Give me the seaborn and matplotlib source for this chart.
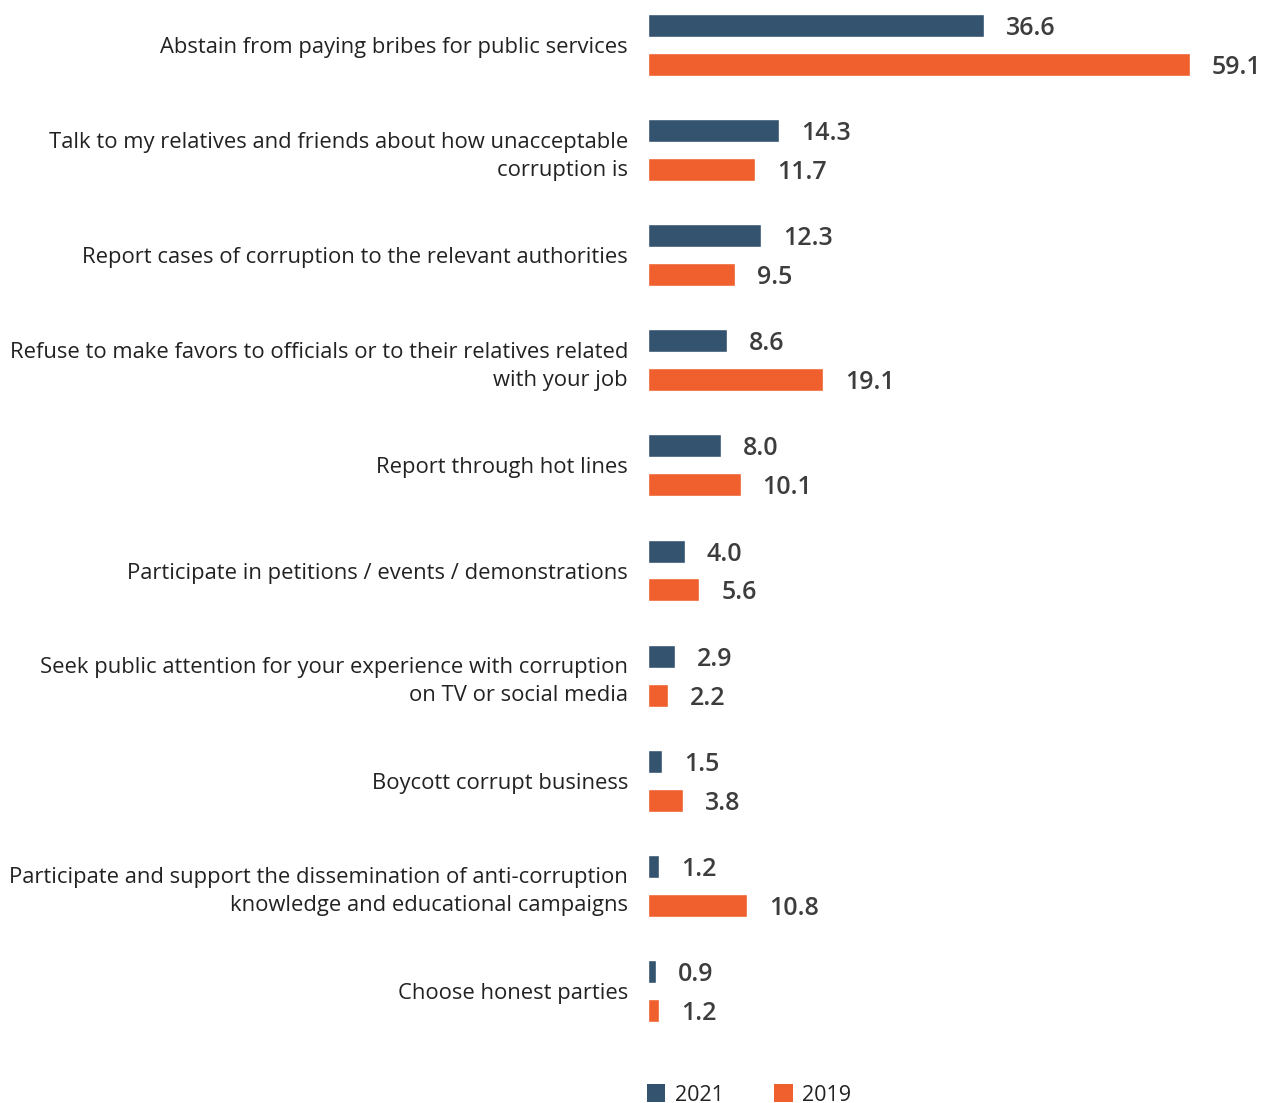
import matplotlib
matplotlib.use("Agg")
import matplotlib.pyplot as plt
from matplotlib.patches import Patch
import seaborn as sns
import pandas as pd

categories = [
    "Abstain from paying bribes for public services",
    "Talk to my relatives and friends about how unacceptable\ncorruption is",
    "Report cases of corruption to the relevant authorities",
    "Refuse to make favors to officials or to their relatives related\nwith your job",
    "Report through hot lines",
    "Participate in petitions / events / demonstrations",
    "Seek public attention for your experience with corruption\non TV or social media",
    "Boycott corrupt business",
    "Participate and support the dissemination of anti-corruption\nknowledge and educational campaigns",
    "Choose honest parties",
]
values_2021 = [36.6, 14.3, 12.3, 8.6, 8.0, 4.0, 2.9, 1.5, 1.2, 0.9]
values_2019 = [59.1, 11.7, 9.5, 19.1, 10.1, 5.6, 2.2, 3.8, 10.8, 1.2]
years = ["2021", "2019"]
colors = ["#34536e", "#f05f2e"]

df = pd.DataFrame({
    "category": categories * 2,
    "value": values_2021 + values_2019,
    "year": [years[0]] * len(categories) + [years[1]] * len(categories),
})

sns.set_theme(style="white")
plt.rcParams["font.family"] = ["Open Sans", "DejaVu Sans"]

W, H = 1267, 1103
fig = plt.figure(figsize=(W / 100, H / 100), dpi=100)
ax_left, ax_right, ax_top, ax_bottom = 648, 1267, 0, 1050
ax = fig.add_axes([ax_left / W, 1 - ax_bottom / H,
                   (ax_right - ax_left) / W, (ax_bottom - ax_top) / H])

sns.barplot(data=df, x="value", y="category", hue="year", hue_order=years,
            palette=colors, orient="h", width=0.742, gap=0.41,
            saturation=1, legend=False, ax=ax)

px_per_unit = 9.17
ax.set_xlim(0, (ax_right - ax_left) / px_per_unit)
spacing = 105.1
c0 = 45
ax.set_ylim((ax_bottom - c0) / spacing, -c0 / spacing)

for cont, vals in zip(ax.containers, [values_2021, values_2019]):
    for bar, v in zip(cont, vals):
        ax.text(v + 2.4, bar.get_y() + bar.get_height() / 2, f"{v:.1f}",
                ha="left", va="center_baseline", fontsize=18,
                fontweight="semibold", color="#3d3d3d")

ax.set_xlabel("")
ax.set_ylabel("")
ax.set_xticks([])
ax.tick_params(axis="y", length=0, pad=14.4, labelsize=15.8,
               labelcolor="#222222")
for lbl in ax.get_yticklabels():
    lbl.set_horizontalalignment("right")
    lbl.set_linespacing(1.45)
for s in ax.spines.values():
    s.set_visible(False)

handles = [Patch(facecolor=c, edgecolor="none", label=y) for c, y in zip(colors, years)]
fig.legend(handles=handles, loc="center left",
           bbox_to_anchor=(647 / W, 1 - 1095 / H), ncol=2, frameon=False,
           fontsize=15.5, handlelength=0.85, handleheight=0.85,
           handletextpad=0.45, columnspacing=2.35, labelcolor="#222222",
           borderaxespad=0, borderpad=0)

fig.savefig("out.png", dpi=100, facecolor="white")
